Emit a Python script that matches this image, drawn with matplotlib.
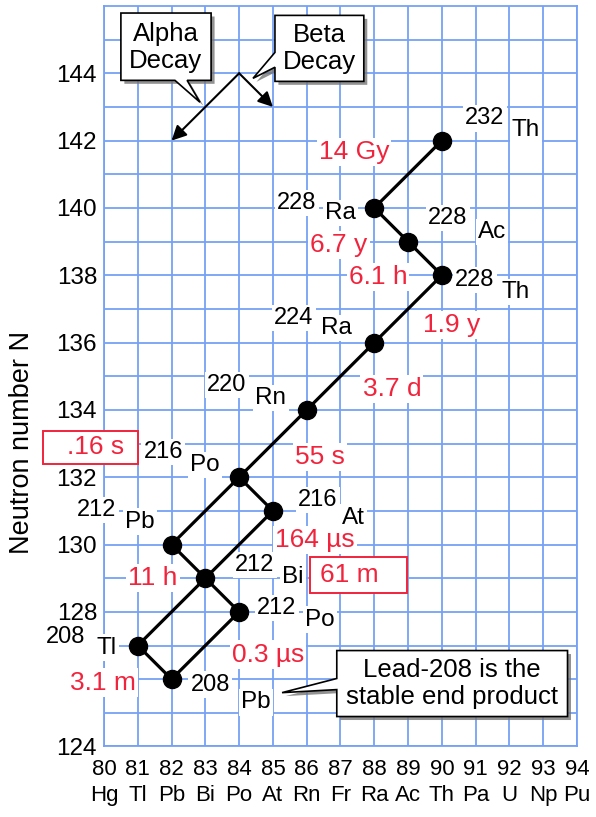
import matplotlib
matplotlib.use("Agg")
import matplotlib.pyplot as plt
import matplotlib.patheffects as pe
from matplotlib.patches import Polygon, Rectangle

plt.rcParams['font.family'] = ['Liberation Sans', 'DejaVu Sans']

# nuclides of the thorium series (Z = protons, N = neutrons)
Z = [90, 88, 89, 90, 88, 86, 84, 85, 82, 83, 84, 81, 82]
N = [142, 140, 139, 138, 136, 134, 132, 131, 130, 129, 128, 127, 126]
mass = [232, 228, 228, 228, 224, 220, 216, 216, 212, 212, 212, 208, 208]
symbol = ['Th', 'Ra', 'Ac', 'Th', 'Ra', 'Rn', 'Po', 'At', 'Pb', 'Bi', 'Po', 'Tl', 'Pb']

# decay steps, parent index -> daughter index
decays = [(0, 1), (1, 2), (2, 3), (3, 4), (4, 5), (5, 6), (6, 7), (6, 8),
          (7, 9), (8, 9), (9, 10), (9, 11), (10, 12), (11, 12)]

half_lives = ['14 Gy', '6.7 y', '6.1 h', '1.9 y', '3.7 d', '55 s', '.16 s',
              '164 µs', '11 h', '61 m', '0.3 µs', '3.1 m']

z_ticks = list(range(80, 95))
z_symbols = ['Hg', 'Tl', 'Pb', 'Bi', 'Po', 'At', 'Rn', 'Fr', 'Ra', 'Ac', 'Th',
             'Pa', 'U', 'Np', 'Pu']
n_ticks = list(range(124, 146, 2))

# --- layout (offsets from each nuclide, label positions) ---
mass_off = [(1.27, 0.66), (-2.29, 0.14), (1.18, 0.70), (0.98, -0.14), (-2.38, 0.73),
            (-2.36, 0.74), (-2.25, 0.75), (1.33, 0.33), (-2.21, 1.03), (1.47, 0.40),
            (1.12, 0.12), (-2.15, 0.26), (1.14, -0.16)]
sym_off = [(2.49, 0.31), (-0.99, -0.15), (2.48, 0.28), (2.19, -0.50), (-1.11, 0.43),
           (-1.06, 0.36), (-1.01, 0.37), (2.37, -0.20), (-0.93, 0.68), (2.59, 0.04),
           (2.39, -0.23), (-0.91, -0.06), (2.50, -0.69)]
hl_pos = [(87.40, 141.66), (86.95, 138.90), (88.11, 137.95), (90.30, 136.52),
          (88.52, 134.62), (86.39, 132.61), (79.75, 132.90), (86.24, 130.14),
          (81.45, 129.01), (87.25, 129.10), (84.85, 126.73), (79.97, 125.90)]
boxed = {6: (78.20, 132.40, 2.80, 0.98), 9: (86.09, 128.57, 2.87, 1.05)}

grid_c = '#75a1f4'
red = '#f0243c'

fig = plt.figure(figsize=(5.96, 8.17), dpi=100)
ax = fig.add_axes([0.1745, 0.0863, 0.7936, 0.9064])
ax.set_xlim(80, 94)
ax.set_ylim(124, 146)

ax.set_xticks(z_ticks)
ax.set_xticklabels([f'{z}\n{s}' for z, s in zip(z_ticks, z_symbols)],
                   fontsize=16, linespacing=1.3)
ax.set_yticks(n_ticks)
# the 126 label sits under the "3.1 m" half-life in the original
ax.set_yticklabels(['' if n == 126 else str(n) for n in n_ticks])
ax.set_yticks(range(125, 146, 2), minor=True)
ax.tick_params(axis='both', which='both', length=0)
ax.tick_params(axis='x', pad=9)
ax.tick_params(axis='y', labelsize=17.5, pad=5)
ax.grid(True, which='both', color=grid_c, lw=1.3)
ax.set_axisbelow(True)
for sp in ax.spines.values():
    sp.set_color(grid_c)
    sp.set_linewidth(1.3)

ax.set_ylabel('Neutron number N', fontsize=19.5)
ax.yaxis.set_label_coords(-0.145, 0.41)

# decay chain
for a, b in decays:
    ax.plot([Z[a], Z[b]], [N[a], N[b]], color='black', lw=2.3, zorder=4)
ax.plot(Z, N, 'o', color='black', ms=13, zorder=5)

white = dict(facecolor='white', edgecolor='none', pad=1.5)
for i in range(len(Z)):
    ax.text(Z[i] + mass_off[i][0], N[i] + mass_off[i][1], str(mass[i]),
            fontsize=17, ha='center', va='center', bbox=white, zorder=3)
    ax.text(Z[i] + sym_off[i][0], N[i] + sym_off[i][1], symbol[i],
            fontsize=17.5, ha='center', va='center', bbox=white, zorder=3)

for i, (lbl, (x, y)) in enumerate(zip(half_lives, hl_pos)):
    if i in boxed:
        bx, by, bw, bh = boxed[i]
        ax.add_patch(Rectangle((bx, by), bw, bh, facecolor='white', edgecolor=red,
                               lw=1.4, zorder=6, clip_on=False))
        ax.text(x, y, lbl, fontsize=19, color=red, ha='center', va='center',
                zorder=7, clip_on=False)
    else:
        ax.text(x, y, lbl, fontsize=19, color=red, ha='center', va='center',
                bbox=white, zorder=3)


def callout(pts, text, tx, ty):
    poly = Polygon(pts, closed=True, facecolor='white', edgecolor='black', lw=1.2,
                   zorder=8, clip_on=False,
                   path_effects=[pe.SimplePatchShadow(offset=(2.5, -2.5), shadow_rgbFace='#777777',
                                                      alpha=0.8), pe.Normal()])
    ax.add_patch(poly)
    ax.text(tx, ty, text, fontsize=18.5, ha='center', va='center', linespacing=1.15, zorder=9)


callout([(80.50, 145.79), (83.17, 145.79), (83.17, 143.79), (82.46, 143.79),
         (82.84, 143.14), (82.10, 143.79), (80.50, 143.79)], 'Alpha\nDecay', 81.83, 144.76)
callout([(85.06, 145.72), (87.69, 145.72), (87.69, 143.76), (85.06, 143.76),
         (85.06, 144.18), (84.41, 143.85), (85.06, 144.62)], 'Beta\nDecay', 86.38, 144.74)
callout([(86.89, 126.85), (93.72, 126.85), (93.72, 124.89), (86.89, 124.89),
         (86.89, 125.69), (85.27, 125.60), (86.89, 126.02)],
        'Lead-208 is the\nstable end product', 90.30, 125.87)

# legend arrows
arrow = dict(arrowstyle='-|>', color='black', lw=1.5, mutation_scale=22,
             shrinkA=0, shrinkB=0)
ax.annotate('', xy=(82, 142), xytext=(84, 144), arrowprops=arrow, zorder=8)
ax.annotate('', xy=(85, 143), xytext=(84, 144), arrowprops=arrow, zorder=8)

fig.savefig('out.png', dpi=100)
